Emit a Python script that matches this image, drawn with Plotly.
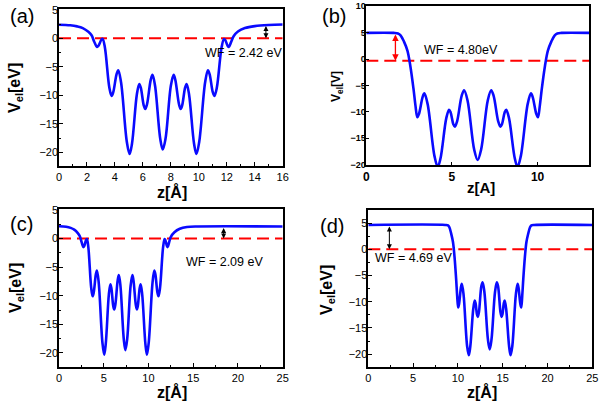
import plotly.graph_objects as go

# (a) electrostatic potential, z from 0 to 16 A
z_a = [0, 0.8, 1.3, 1.7, 2.1, 2.33, 2.52, 2.72, 2.82, 3.02, 3.12, 3.28, 3.6, 3.76, 3.88,
       4.12, 4.24, 4.44, 4.85, 5.05, 5.22, 5.57, 5.74, 5.85, 6.06, 6.17, 6.3, 6.56, 6.69, 6.87,
       7.24, 7.42, 7.62, 8.0, 8.2, 8.32, 8.58, 8.7, 8.81, 9.02, 9.13, 9.3, 9.66, 9.83, 10.03,
       10.45, 10.65, 10.77, 11.0, 11.12, 11.29, 11.63, 11.8, 11.89, 12.06, 12.15, 12.3, 12.5,
       12.8, 13.3, 14.0, 15.0, 16.0]
v_a = [2.4, 2.3, 2.1, 1.8, 1.15, 0.55, -0.6, -1.5, -1.3, -0.3, -0.1, -1.56, -8.64, -10.1, -9.44,
       -6.26, -5.6, -7.75, -18.15, -20.3, -18.5, -9.8, -8.0, -8.64, -11.76, -12.4, -11.52, -7.28, -6.4, -8.31,
       -17.59, -19.5, -17.59, -8.31, -6.4, -7.28, -11.52, -12.4, -11.76, -8.64, -8.0, -9.8, -18.5, -20.3, -18.15,
       -7.75, -5.6, -6.26, -9.44, -10.1, -8.64, -1.56, -0.1, -0.3, -1.3, -1.5, -0.7, 0.4,
       1.2, 1.8, 2.15, 2.35, 2.42]

# (b) z from 0 to 13 A
z_b = [0, 1.6, 1.85, 2.0, 2.2, 2.4, 2.57, 2.75, 2.87, 2.98, 3.08, 3.29, 3.39, 3.58, 3.98, 4.17,
       4.33, 4.67, 4.83, 4.92, 5.08, 5.17, 5.3, 5.57, 5.71, 5.91, 6.3, 6.5, 6.7, 7.09, 7.29,
       7.43, 7.7, 7.83, 7.92, 8.08, 8.17, 8.33, 8.67, 8.83, 9.02, 9.42, 9.61, 9.71, 9.92, 10.02,
       10.13, 10.25, 10.43, 10.6, 10.8, 11.0, 11.15, 11.4, 13.0]
v_b = [4.95, 4.95, 4.85, 4.5, 3.3, 1.6, -1.3, -5.5, -8.8, -11.0, -10.34, -7.16, -6.5, -8.53, -18.37, -20.4,
       -18.82, -11.18, -9.6, -10.07, -12.33, -12.8, -11.79, -6.91, -5.9, -7.83, -17.17, -19.1, -17.17, -7.83, -5.9,
       -6.91, -11.79, -12.8, -12.33, -10.07, -9.6, -11.18, -18.82, -20.4, -18.37, -8.53, -6.5, -7.16, -10.34, -11.0,
       -8.8, -5.5, -1.3, 1.6, 3.3, 4.5, 4.85, 4.95, 4.95]

# (c) same slab, z from 0 to 25 A
z_c = [0, 0.8, 1.3, 1.7, 2.1, 2.33, 2.52, 2.72, 2.82, 3.02, 3.12, 3.28, 3.6, 3.76, 3.88,
       4.12, 4.24, 4.44, 4.85, 5.05, 5.22, 5.57, 5.74, 5.85, 6.06, 6.17, 6.3, 6.56, 6.69, 6.87,
       7.24, 7.42, 7.62, 8.0, 8.2, 8.32, 8.58, 8.7, 8.81, 9.02, 9.13, 9.3, 9.66, 9.83, 10.03,
       10.45, 10.65, 10.77, 11.0, 11.12, 11.29, 11.63, 11.8, 11.89, 12.06, 12.15, 12.3, 12.5,
       12.9, 13.5, 14.3, 15.5, 25.0]
v_c = [2.15, 2.05, 1.85, 1.55, 0.95, 0.4, -0.6, -1.5, -1.3, -0.3, -0.1, -1.56, -8.64, -10.1, -9.44,
       -6.26, -5.6, -7.75, -18.15, -20.3, -18.5, -9.8, -8.0, -8.64, -11.76, -12.4, -11.52, -7.28, -6.4, -8.31,
       -17.59, -19.5, -17.59, -8.31, -6.4, -7.28, -11.52, -12.4, -11.76, -8.64, -8.0, -9.8, -18.5, -20.3, -18.15,
       -7.75, -5.6, -6.26, -9.44, -10.1, -8.64, -1.56, -0.1, -0.3, -1.3, -1.5, -0.7, 0.3,
       1.1, 1.7, 2.0, 2.1, 2.1]

# (d) z from 0 to 25 A
z_d = [0, 8.6, 8.9, 9.05, 9.25, 9.45, 9.62, 9.8, 9.92, 10.03, 10.13, 10.34, 10.44, 10.63, 11.03, 11.22,
       11.38, 11.72, 11.88, 11.97, 12.13, 12.22, 12.35, 12.62, 12.76, 12.96, 13.35, 13.55, 13.75, 14.14, 14.34,
       14.48, 14.75, 14.88, 14.97, 15.13, 15.22, 15.38, 15.72, 15.88, 16.07, 16.47, 16.66, 16.76, 16.97, 17.07,
       17.18, 17.3, 17.48, 17.65, 17.85, 18.05, 18.2, 18.5, 25.0]
v_d = [4.65, 4.65, 4.55, 4.2, 3.0, 1.4, -1.4, -5.6, -8.9, -11.1, -10.44, -7.26, -6.6, -8.6, -18.5, -20.2,
       -18.6, -11.3, -9.8, -10.25, -12.45, -12.9, -11.95, -7.0, -6.3, -8.2, -17.2, -19.1, -17.2, -8.2, -6.3,
       -7.0, -11.95, -12.9, -12.45, -10.25, -9.8, -11.3, -18.6, -20.2, -18.5, -8.6, -6.6, -7.26, -10.44, -11.1,
       -8.9, -5.6, -1.4, 1.4, 3.0, 4.2, 4.55, 4.65, 4.65]

# fermi levels and vacuum levels
fermi = {'a': 0.0, 'b': -0.3, 'c': 0.0, 'd': 0.0}
vacuum = {'a': 2.42, 'b': 4.95, 'c': 2.1, 'd': 4.65}
wf_text = {'a': 'WF = 2.42 eV', 'b': 'WF = 4.80eV', 'c': 'WF = 2.09 eV', 'd': 'WF = 4.69 eV'}

FONT = "Arial, Liberation Sans, sans-serif"
W, H = 600, 405

fig = go.Figure()


def px_dom(a, b, total, flip=False):
    if flip:
        return [1 - b / total, 1 - a / total]
    return [a / total, b / total]


def add_text(txt, cx, cy, size, angle=0):
    # cx, cy: pixel centre from top-left
    fig.add_annotation(x=cx / W, y=1 - cy / H, xref='paper', yref='paper', text=txt,
                       textangle=angle, xanchor='center', yanchor='middle', showarrow=False,
                       font=dict(family=FONT, size=size, color='black'))


panels = {
    # key: axis suffix, x px, y px, x range, y range, x dtick
    'a': dict(n='', xpx=(59, 282.7), ypx=(9.3, 166), xr=[0, 16], yr=[-22.4, 5.1], xd=2, z=z_a, v=v_a),
    'b': dict(n='2', xpx=(366.3, 589), ypx=(5.7, 165), xr=[0, 13], yr=[-20.05, 10.1], xd=5, z=z_b, v=v_b),
    'c': dict(n='3', xpx=(59, 282.7), ypx=(209.3, 366.7), xr=[0, 25], yr=[-22.4, 5.1], xd=5, z=z_c, v=v_c),
    'd': dict(n='4', xpx=(368.3, 592.3), ypx=(210, 366.7), xr=[0, 25], yr=[-22.4, 7.5], xd=5, z=z_d, v=v_d),
}

for key, p in panels.items():
    n = p['n']
    xa, ya = 'x' + n, 'y' + n
    fig.add_trace(go.Scatter(x=p['xr'], y=[fermi[key]] * 2, xaxis=xa, yaxis=ya, mode='lines',
                             line=dict(color='#ff0000', width=2, dash='12px,6px'), showlegend=False))
    fig.add_trace(go.Scatter(x=p['z'], y=p['v'], xaxis=xa, yaxis=ya, mode='lines',
                             line=dict(color='#0a0aff', width=2.6, shape='spline', smoothing=1),
                             showlegend=False))
    bold = key == 'b'
    xax = dict(domain=px_dom(*p['xpx'], W), range=p['xr'], anchor=ya, dtick=p['xd'], tick0=0,
               automargin=False,
               showline=True, linecolor='black', linewidth=1.5, mirror=True, showgrid=False,
               zeroline=False, ticks='inside', ticklen=4, tickcolor='black', tickwidth=1,
               tickfont=dict(family=FONT, size=12 if bold else 11, color='black',
                             weight='bold' if bold else 'normal'))
    yax = dict(domain=px_dom(*p['ypx'], H, flip=True), range=p['yr'], anchor=xa, dtick=5, tick0=0,
               automargin=False, ticklabelstandoff=-3,
               showline=True, linecolor='black', linewidth=1.5, mirror=True, showgrid=False,
               zeroline=False, ticks='inside', ticklen=4, tickcolor='black', tickwidth=1,
               tickfont=dict(family=FONT, size=9 if bold else 11, color='black',
                             weight='bold' if bold else 'normal'))
    if not bold:
        xax['minor'] = dict(dtick=p['xd'] / 2, ticks='inside', ticklen=2, tickcolor='black', showgrid=False)
        yax['minor'] = dict(dtick=2.5, ticks='inside', ticklen=2, tickcolor='black', showgrid=False)
    else:
        xax['ticklen'] = 3
        yax['ticklen'] = 3
    fig.layout['xaxis' + n] = xax
    fig.layout['yaxis' + n] = yax

# work function arrows
arrows = [('a', '', 14.8, 'black', 1), ('b', '2', 1.7, '#ff0000', 1.3),
          ('c', '3', 18.4, 'black', 1), ('d', '4', 2.35, 'black', 1)]
for key, n, zpos, col, w in arrows:
    fig.add_annotation(x=zpos, y=fermi[key], ax=zpos, ay=vacuum[key], xref='x' + n, yref='y' + n,
                       axref='x' + n, ayref='y' + n, text='', showarrow=True, arrowhead=2,
                       arrowside='end+start', arrowsize=1, arrowwidth=w, arrowcolor=col)

# work function labels
for key, (cx, cy) in {'a': (243, 52.5), 'b': (461, 50), 'c': (224, 262), 'd': (413.5, 258)}.items():
    add_text(wf_text[key], cx, cy, 12.5)

# panel letters
for txt, (cx, cy) in {'(a)': (22, 16), '(b)': (334, 16), '(c)': (21, 224), '(d)': (332, 226)}.items():
    add_text(txt, cx, cy, 20)

# axis titles
add_text('<b>V<sub>el</sub>[eV]</b>', 16, 88, 16, -90)
add_text('<b>V<sub>el</sub>[V]</b>', 337, 87, 12, -90)
add_text('<b>V<sub>el</sub>[eV]</b>', 16, 288, 16, -90)
add_text('<b>V<sub>el</sub>[eV]</b>', 327, 290, 16, -90)
add_text('<b>z[Å]</b>', 172, 192, 16)
add_text('<b>z[A]</b>', 481, 188, 15)
add_text('<b>z[Å]</b>', 172, 392, 16)
add_text('<b>z[Å]</b>', 482, 392, 16)

fig.update_layout(width=W, height=H, margin=dict(l=0, r=0, t=0, b=0, autoexpand=False),
                  plot_bgcolor='white', paper_bgcolor='white', font=dict(family=FONT))
# page has a default body margin; drop it so the figure sits at the window corner
fig.write_html("out.html", config={'displayModeBar': False},
               post_script="document.body.style.margin='0';")
